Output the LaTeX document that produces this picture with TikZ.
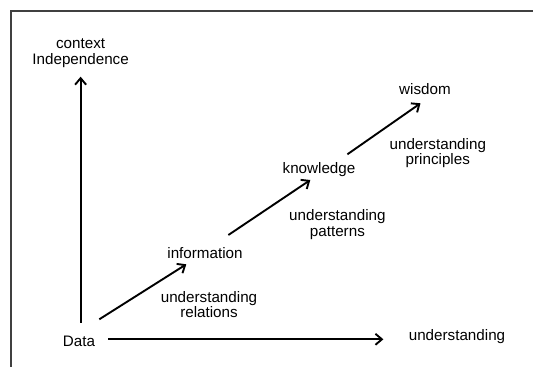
\documentclass[tikz,border=0pt]{standalone}
\usepackage{fontspec}
\setmainfont{Liberation Sans}
\usetikzlibrary{arrows.meta}
\tikzstyle{lbl}=[inner sep=1pt, font=\fontsize{15.2}{15.5}\selectfont]
\tikzstyle{twolbl}=[lbl, align=center]
\tikzstyle{arr}=[line width=1.9pt, -{Straight Barb[length=6.5pt,width=11pt]}]

\begin{document}
\begin{tikzpicture}[x=1pt, y=-1pt]
            \useasboundingbox (0,0) rectangle (533,367);
            \draw[line width=1.3pt, black!75] (533,11) -- (11,11) -- (11,367);

            \node[lbl] (data) at (79,341) {Data};
            \node[lbl] (info) at (205,253.3) {information};
            \node[lbl] (know) at (319,169.3) {knowledge};
            \node[lbl] (wis) at (425,89.3) {wisdom};
            \node[lbl] (und) at (457,336.7) {understanding};
            \node[twolbl] (ctx) at (80.6,53) {context\\Independence};

            \node[twolbl] (rel) at (209,304.5) {understanding\\relations};
            \node[twolbl] (pat) at (337.4,224.8) {understanding\\patterns};
            \node[twolbl] (pri) at (437.8,153.3) {understanding\\principles};

            \draw[arr] ([yshift=18.3pt]data.center -| ctx.center) -- ([yshift=-23.7pt]ctx.center);
            \draw[arr] ([shift={(29pt,1.7pt)}]data.center) -- ([shift={(-73.6pt,-2.6pt)}]und.center);

            \draw[arr] ([shift={(20.3pt,21.7pt)}]data.center) -- ([shift={(-18.7pt,-11pt)}]info.center);
            \draw[arr] ([shift={(23.4pt,18.3pt)}]info.center) -- ([shift={(-8.7pt,-10.7pt)}]know.center);
            \draw[arr] ([shift={(28.4pt,15pt)}]know.center) -- ([shift={(-4.5pt,-14pt)}]wis.center);
        \end{tikzpicture}
\end{document}
